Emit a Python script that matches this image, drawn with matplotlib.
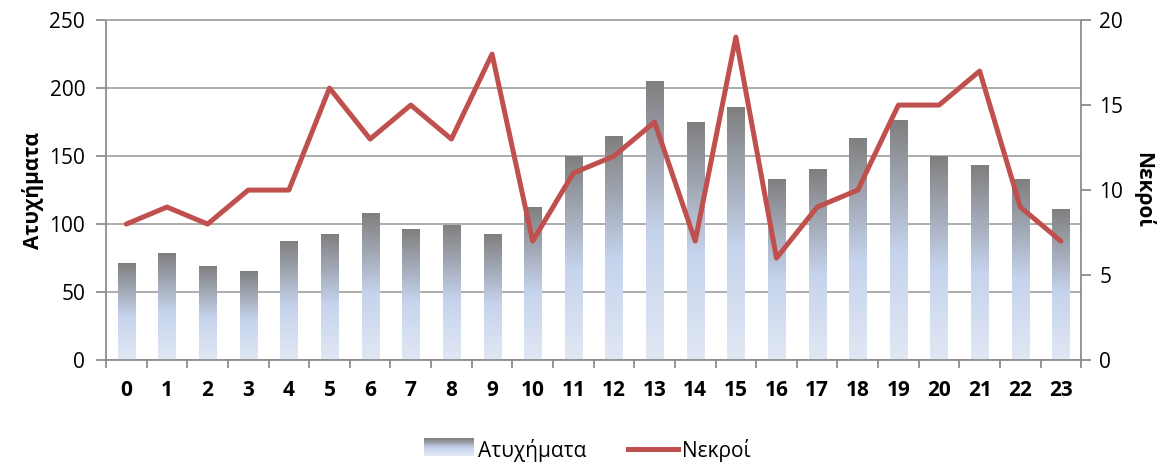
import numpy as np
import matplotlib
matplotlib.use('Agg')
import matplotlib.pyplot as plt
from matplotlib.colors import LinearSegmentedColormap
from matplotlib.legend_handler import HandlerBase
from matplotlib.patches import Rectangle
from matplotlib.lines import Line2D

plt.rcParams['font.family'] = ['Open Sans', 'DejaVu Sans']

hours = list(range(24))
accidents = [71, 78, 69, 65, 87, 92, 108, 96, 99, 92, 112, 150,
             164, 205, 175, 186, 133, 140, 163, 176, 150, 143, 133, 111]
deaths = [8, 9, 8, 10, 10, 16, 13, 15, 13, 18, 7, 11,
          12, 14, 7, 19, 6, 9, 10, 15, 15, 17, 9, 7]

grad = LinearSegmentedColormap.from_list(
    'bars', [(0, '#E1E8F4'), (0.45, '#C5D3EC'), (1, '#7F7F7F')])
line_col = '#C0504D'
axis_col = '#8C8C8C'
fs = 15

fig = plt.figure(figsize=(11.74, 4.67), dpi=100)
ax = fig.add_axes([0.0903, 0.229, 0.8307, 0.728])
ax2 = ax.twinx()

w = 0.42
g = np.linspace(0, 1, 256).reshape(-1, 1)
for x, h in zip(hours, accidents):
    ax.imshow(g, cmap=grad, origin='lower', aspect='auto', interpolation='bilinear',
              extent=[x - w / 2, x + w / 2, 0, h], zorder=2)

ax.set_xlim(-0.5, 23.5)
ax.set_ylim(0, 250)
ax.set_yticks(range(0, 251, 50))
ax.grid(axis='y', color='#A6A6A6', linewidth=1.3, zorder=0)
ax.set_axisbelow(True)
ax.set_xticks(np.arange(-0.5, 24, 1))
ax.set_xticklabels([])
ax.set_xticks(hours, minor=True)
ax.set_xticklabels([str(h) for h in hours], minor=True, fontweight='bold', fontsize=fs)
ax.tick_params(axis='x', which='major', length=6, color=axis_col, width=1.3)
ax.tick_params(axis='x', which='minor', length=0, pad=14)
ax.tick_params(axis='y', length=7, color=axis_col, width=1.3, labelsize=fs, pad=8)
ax.set_ylabel('Ατυχήματα', fontweight='bold', fontsize=fs, labelpad=4)

ax2.plot(hours, deaths, color=line_col, linewidth=3.6, solid_joinstyle='round',
         solid_capstyle='round', zorder=3)
ax2.set_ylim(0, 20)
ax2.set_yticks(range(0, 21, 5))
ax2.tick_params(axis='y', length=7, color=axis_col, width=1.3, labelsize=fs, pad=6)
ax2.set_ylabel('Νεκροί', fontweight='bold', fontsize=fs, rotation=-90, labelpad=22)

for a in (ax, ax2):
    for s in ('left', 'right', 'bottom'):
        a.spines[s].set_color(axis_col)
        a.spines[s].set_linewidth(1.3)
ax.spines['top'].set_color('#A6A6A6')
ax.spines['top'].set_linewidth(1.3)
ax2.spines['top'].set_visible(False)
ax2.spines['left'].set_visible(False)
ax2.spines['bottom'].set_visible(False)
ax.spines['right'].set_visible(False)


class GradHandler(HandlerBase):
    def create_artists(self, legend, orig, xd, yd, width, height, fontsize, trans):
        arts = []
        n = 20
        for i in range(n):
            r = Rectangle((xd, yd + height * i / n), width, height / n,
                          facecolor=grad(i / (n - 1)), edgecolor='none', transform=trans)
            arts.append(r)
        return arts


bar_handle = Rectangle((0, 0), 1, 1)
line_handle = Line2D([], [], color=line_col, linewidth=3.6)
fig.legend([bar_handle, line_handle], ['Ατυχήματα', 'Νεκροί'],
           handler_map={Rectangle: GradHandler()}, loc='center',
           bbox_to_anchor=(0.5, 0.035), ncol=2, frameon=False, fontsize=fs,
           handlelength=2.4, handleheight=0.9, handletextpad=0.2, columnspacing=2.0)

fig.savefig('out.png', dpi=100)
